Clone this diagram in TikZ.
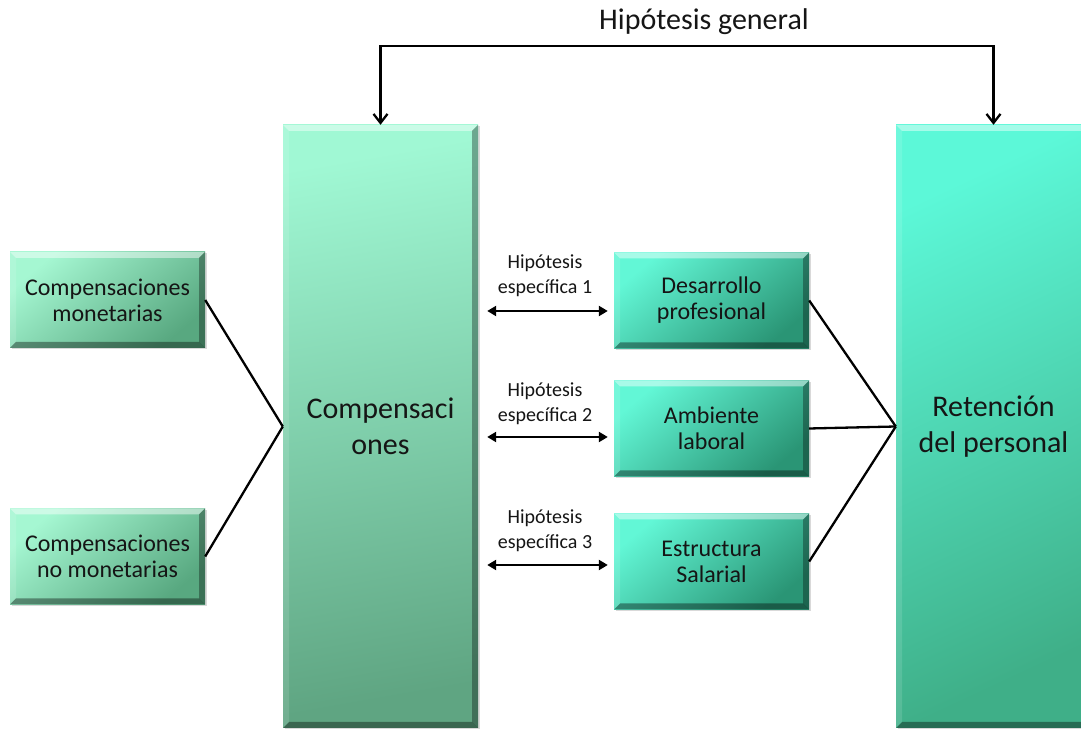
\documentclass[tikz,border=0pt]{standalone}
\usepackage{fontspec}
\setmainfont{Carlito}
\usetikzlibrary{arrows.meta,calc,shadows}
\definecolor{cbT}{HTML}{A0F8D4}
\definecolor{cbB}{HTML}{5FA582}
\definecolor{smT}{HTML}{A5F7D2}
\definecolor{smB}{HTML}{58A880}
\definecolor{midT}{HTML}{62F7D6}
\definecolor{midB}{HTML}{2A9575}
\definecolor{retT}{HTML}{5CF8D8}
\definecolor{retB}{HTML}{3FAF88}
\definecolor{txt}{HTML}{151515}
\begin{document}
\begin{tikzpicture}[x=1pt,y=1pt,
  bevel/.style={path picture={
    \fill[white,opacity=0.45] (path picture bounding box.north west) -- (path picture bounding box.north east) -- ([shift={(-6pt,-6pt)}]path picture bounding box.north east) -- ([shift={(6pt,-6pt)}]path picture bounding box.north west) -- cycle;
    \fill[white,opacity=0.12] (path picture bounding box.north west) -- ([shift={(6pt,-6pt)}]path picture bounding box.north west) -- ([shift={(6pt,6pt)}]path picture bounding box.south west) -- (path picture bounding box.south west) -- cycle;
    \fill[black,opacity=0.32] (path picture bounding box.north east) -- (path picture bounding box.south east) -- ([shift={(-6pt,6pt)}]path picture bounding box.south east) -- ([shift={(-6pt,-6pt)}]path picture bounding box.north east) -- cycle;
    \fill[black,opacity=0.38] (path picture bounding box.south west) -- (path picture bounding box.south east) -- ([shift={(-6pt,6pt)}]path picture bounding box.south east) -- ([shift={(6pt,6pt)}]path picture bounding box.south west) -- cycle;
  }},
  box/.style={rectangle, inner sep=0pt, align=center, text=txt, minimum width=195pt,
    drop shadow={opacity=0.3,shadow xshift=1.5pt,shadow yshift=-1.5pt}, bevel},
  smallbox/.style={box, minimum height=96pt, font=\fontsize{24}{26}\selectfont},
  leftbox/.style={smallbox, top color=smT, bottom color=smB, shading angle=40},
  midbox/.style={smallbox, top color=midT, bottom color=midB, shading angle=40},
  bigbox/.style={box, minimum height=603pt, font=\fontsize{30}{36}\selectfont},
  hyp/.style={align=center, inner sep=0pt, text=txt, font=\fontsize{20}{25}\selectfont},
  conn/.style={line width=2.3pt, black},
  dbl/.style={line width=2.3pt, black, {Triangle[length=9pt,width=10pt]}-{Triangle[length=9pt,width=10pt]}},
  topconn/.style={line width=2.3pt, black, {Straight Barb[length=9pt,width=14pt,line width=2.3pt]}-{Straight Barb[length=9pt,width=14pt,line width=2.3pt]}}
]
\useasboundingbox (0,0) rectangle (1081,730);
\clip (0,0) rectangle (1081,730);

% boxes
\node[bigbox, top color=cbT, bottom color=cbB, shading angle=10] (cbig) at (380.5,303.5) {Compensaci\\ones};
\node[bigbox, top color=retT, bottom color=retB, shading angle=25] (ret) at (993.5,303.5) {Retención\\del personal};

\node[leftbox] (mon) at (107.5,430) {Compensaciones\\monetarias};
\node[leftbox] (nomon) at (107.5,173.5) {Compensaciones\\no monetarias};

\node[midbox] (des) at (711.5,429.5) {Desarrollo\\profesional};
\node[midbox] (amb) at (711.5,301.5) {Ambiente\\laboral};
\node[midbox] (est) at (711.5,168.5) {Estructura\\Salarial};

% labels
\node[text=txt, inner sep=0pt, font=\fontsize{30}{36}\selectfont] (hg) at (704,708) {Hipótesis general};
\node[hyp] (h1) at (545,454.5) {Hipótesis\\específica 1};
\node[hyp] (h2) at (545,326) {Hipótesis\\específica 2};
\node[hyp] (h3) at (545,199) {Hipótesis\\específica 3};

% connectors
\draw[conn] (mon.east) -- (cbig.west);
\draw[conn] (nomon.east) -- (cbig.west);
\draw[conn] (des.east) -- (ret.west);
\draw[conn] (amb.east) -- (ret.west);
\draw[conn] (est.east) -- (ret.west);

\draw[dbl] ($(cbig.east |- des.west)+(9,-10.5)$) -- ($(des.west)+(-6,-10.5)$);
\draw[dbl] ($(cbig.east |- amb.west)+(9,-8.5)$) -- ($(amb.west)+(-6,-8.5)$);
\draw[dbl] ($(cbig.east |- est.west)+(9,-3.5)$) -- ($(est.west)+(-6,-3.5)$);

\draw[topconn] (cbig.north) -- ++(0,79) -| (ret.north);
\end{tikzpicture}
\end{document}
